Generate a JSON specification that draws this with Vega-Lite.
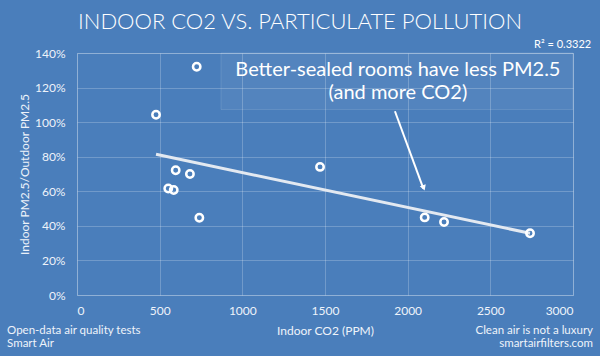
{
  "$schema": "https://vega.github.io/schema/vega-lite/v6.json",
  "width": 496,
  "height": 242,
  "autosize": {"type": "none"},
  "padding": {"left": 77, "top": 53, "right": 27, "bottom": 61},
  "background": "#4a7ebb",
  "config": {
    "font": "Lato",
    "view": {"stroke": "rgba(255,255,255,0.22)", "strokeWidth": 1},
    "axis": {
      "labelColor": "#eef3fa",
      "titleColor": "#eef3fa",
      "labelFont": "Lato",
      "titleFont": "Lato",
      "labelFontSize": 12,
      "titleFontSize": 12,
      "titleFontWeight": "normal",
      "gridColor": "rgba(255,255,255,0.22)",
      "gridWidth": 1,
      "domain": false,
      "ticks": false,
      "labelOverlap": false
    }
  },
  "datasets": {
    "points": [
      {"co2": 724, "ratio": 1.32},
      {"co2": 478, "ratio": 1.043},
      {"co2": 597, "ratio": 0.722},
      {"co2": 683, "ratio": 0.70},
      {"co2": 552, "ratio": 0.616},
      {"co2": 585, "ratio": 0.607},
      {"co2": 740, "ratio": 0.447},
      {"co2": 1470, "ratio": 0.741},
      {"co2": 2103, "ratio": 0.449},
      {"co2": 2220, "ratio": 0.422},
      {"co2": 2740, "ratio": 0.357}
    ],
    "trend": [
      {"co2": 478, "ratio": 0.814},
      {"co2": 2740, "ratio": 0.357}
    ],
    "box": [
      {"co2": 871, "co2_end": 3000, "ratio": 1.073, "ratio_end": 1.4}
    ],
    "arrow": [
      {"co2": 1923, "ratio": 1.063},
      {"co2": 2095, "ratio": 0.615}
    ],
    "arrowhead": [
      {"co2": 2095, "ratio": 0.625}
    ],
    "note": [
      {"co2": 1941, "ratio": 1.301, "text": "Better-sealed rooms have less PM2.5"},
      {"co2": 1941, "ratio": 1.168, "text": "(and more CO2)"}
    ],
    "title": [
      {"co2": 1349, "ratio": 1.538, "text": "INDOOR CO2 VS. PARTICULATE POLLUTION"}
    ],
    "r2": [
      {"co2": 3110, "ratio": 1.445, "text": "R² = 0.3322"}
    ],
    "footleft": [
      {"co2": -423, "ratio": -0.211, "text": "Open-data air quality tests"},
      {"co2": -423, "ratio": -0.286, "text": "Smart Air"}
    ],
    "footright": [
      {"co2": 3121, "ratio": -0.211, "text": "Clean air is not a luxury"},
      {"co2": 3121, "ratio": -0.286, "text": "smartairfilters.com"}
    ]
  },
  "encoding": {
    "x": {"field": "co2", "type": "quantitative", "scale": {"domain": [0, 3000]},
          "axis": {"values": [0, 500, 1000, 1500, 2000, 2500, 3000], "format": "d", "title": "Indoor CO2 (PPM)", "labelPadding": 10, "titlePadding": 9, "grid": true}},
    "y": {"field": "ratio", "type": "quantitative", "scale": {"domain": [0, 1.4]},
          "axis": {"values": [0, 0.2, 0.4, 0.6, 0.8, 1.0, 1.2, 1.4], "format": ".0%", "title": "Indoor PM2.5/Outdoor PM2.5", "labelPadding": 12, "titlePadding": 3, "grid": true}}
  },
  "layer": [
    {
      "data": {"name": "box"},
      "mark": {"type": "rect", "fill": "#ffffff", "fillOpacity": 0.05, "stroke": "#ffffff", "strokeOpacity": 0.12},
      "encoding": {
        "x2": {"field": "co2_end"},
        "y2": {"field": "ratio_end"}
      }
    },
    {
      "data": {"name": "trend"},
      "mark": {"type": "line", "color": "#e3e9f1", "strokeWidth": 3},
      "encoding": {}
    },
    {
      "data": {"name": "points"},
      "mark": {"type": "point", "shape": "circle", "filled": false, "stroke": "#ffffff", "strokeWidth": 2.5, "size": 55, "opacity": 1},
      "encoding": {}
    },
    {
      "data": {"name": "arrow"},
      "mark": {"type": "line", "color": "#ffffff", "strokeWidth": 2},
      "encoding": {}
    },
    {
      "data": {"name": "arrowhead"},
      "mark": {"type": "point", "shape": "triangle", "filled": true, "color": "#ffffff", "size": 40, "angle": 160, "opacity": 1},
      "encoding": {}
    },
    {
      "data": {"name": "note"},
      "mark": {"type": "text", "color": "#ffffff", "font": "Lato", "fontSize": 20, "align": "center", "baseline": "middle"},
      "encoding": {"text": {"field": "text"}}
    },
    {
      "data": {"name": "title"},
      "mark": {"type": "text", "color": "#ffffff", "font": "Lato", "fontSize": 22, "fontWeight": 300, "align": "center", "baseline": "alphabetic"},
      "encoding": {"text": {"field": "text"}}
    },
    {
      "data": {"name": "r2"},
      "mark": {"type": "text", "color": "#ffffff", "font": "Lato", "fontSize": 11, "align": "right", "baseline": "middle"},
      "encoding": {"text": {"field": "text"}}
    },
    {
      "data": {"name": "footleft"},
      "mark": {"type": "text", "color": "#eef3fa", "font": "Lato", "fontSize": 11.5, "align": "left", "baseline": "middle"},
      "encoding": {"text": {"field": "text"}}
    },
    {
      "data": {"name": "footright"},
      "mark": {"type": "text", "color": "#eef3fa", "font": "Lato", "fontSize": 11.5, "align": "right", "baseline": "middle"},
      "encoding": {"text": {"field": "text"}}
    }
  ]
}
